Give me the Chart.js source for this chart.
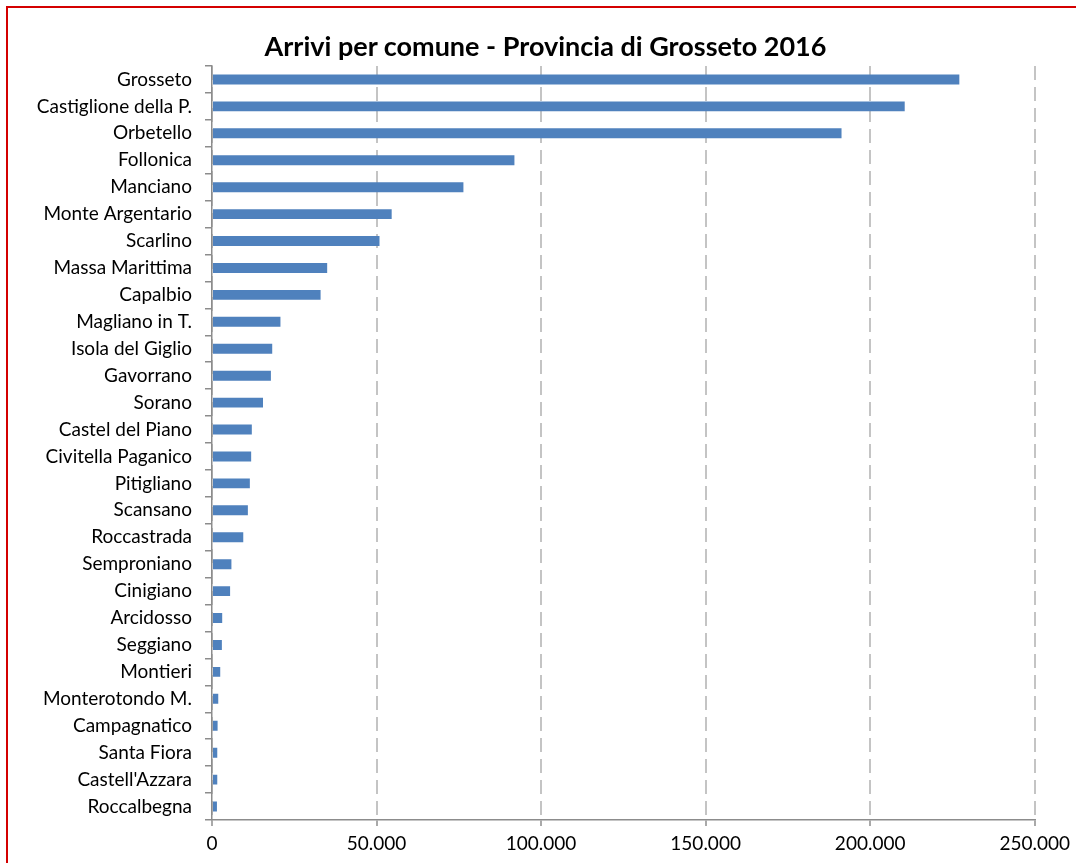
<!DOCTYPE html>
<html>
<head>
<meta charset="utf-8">
<script src="https://cdn.jsdelivr.net/npm/chart.js@4"></script>
<style>
  html, body { margin: 0; padding: 0; background: #fff; }
  #wrap { position: relative; width: 1076px; height: 863px; overflow: hidden; }
  #frame { position: absolute; left: 6px; top: 6px; width: 2000px; height: 2000px;
           border-left: 2px solid #d40000; border-top: 2px solid #d40000; }
  canvas { position: absolute; left: 0; top: 0; }
  /* title sits a little right of the canvas centre, as in the original */
  #title { position: absolute; left: 0; top: 30px; width: 1091px; text-align: center;
           font: bold 27px Lato, "Open Sans", sans-serif; line-height: 32px; color: #000;
           white-space: nowrap; }
</style>
</head>
<body>
<div id="wrap">
  <div id="frame"></div>
  <canvas id="chart" width="1076" height="863"></canvas>
  <div id="title">Arrivi per comune - Provincia di Grosseto 2016</div>
</div>
<script>
// comuni, top to bottom as in the picture
const comuni = [
  'Grosseto', 'Castiglione della P.', 'Orbetello', 'Follonica', 'Manciano',
  'Monte Argentario', 'Scarlino', 'Massa Marittima', 'Capalbio', 'Magliano in T.',
  'Isola del Giglio', 'Gavorrano', 'Sorano', 'Castel del Piano', 'Civitella Paganico',
  'Pitigliano', 'Scansano', 'Roccastrada', 'Semproniano', 'Cinigiano',
  'Arcidosso', 'Seggiano', 'Montieri', 'Monterotondo M.', 'Campagnatico',
  'Santa Fiora', "Castell'Azzara", 'Roccalbegna'
];

// arrivi 2016
const arrivi = [
  227100, 210500, 191300, 91900, 76400,
  54600, 50900, 35000, 33000, 20800,
  18300, 17900, 15500, 12100, 11900,
  11500, 10900, 9500, 5900, 5500,
  3100, 3000, 2500, 1900, 1700,
  1600, 1600, 1500
];

const xMax = 250000;
const xStep = 50000;

const fontFamily = 'Lato, "Open Sans", sans-serif';
const axisGray = '#8c8c8c';

// 50000 -> "50.000"
function fmtIt(v) {
  return String(v).replace(/\B(?=(\d{3})+(?!\d))/g, '.');
}

new Chart(document.getElementById('chart'), {
  type: 'bar',
  data: {
    labels: comuni,
    datasets: [{
      data: arrivi,
      backgroundColor: '#4f81bd',
      borderWidth: 0,
      barPercentage: 0.37,
      categoryPercentage: 1.0
    }]
  },
  options: {
    indexAxis: 'y',
    responsive: false,
    animation: false,
    layout: { padding: { left: 0, right: 41, top: 66, bottom: 0 } },
    plugins: {
      legend: { display: false },
      tooltip: { enabled: false },
      title: { display: false }
    },
    scales: {
      x: {
        min: 0,
        max: xMax,
        ticks: {
          stepSize: xStep,
          color: '#000',
          font: { family: fontFamily, size: 19 },
          padding: 6,
          maxRotation: 0,
          callback: (v) => fmtIt(v)
        },
        grid: {
          color: '#c4c4c4',
          lineWidth: 2,
          tickColor: axisGray,
          tickLength: 6,
          tickWidth: 1.5
        },
        border: { display: true, color: axisGray, width: 1.5, dash: [14, 7] },
        afterFit: (scale) => { scale.height = 43; }
      },
      y: {
        ticks: {
          color: '#000',
          font: { family: fontFamily, size: 19 },
          padding: 13,
          autoSkip: false
        },
        grid: {
          offset: true,
          drawOnChartArea: false,
          color: axisGray,
          tickLength: 7,
          lineWidth: 1.5
        },
        border: { display: true, color: axisGray, width: 1.5 },
        afterFit: (scale) => { scale.width = 212; }
      }
    }
  }
});
</script>
</body>
</html>
